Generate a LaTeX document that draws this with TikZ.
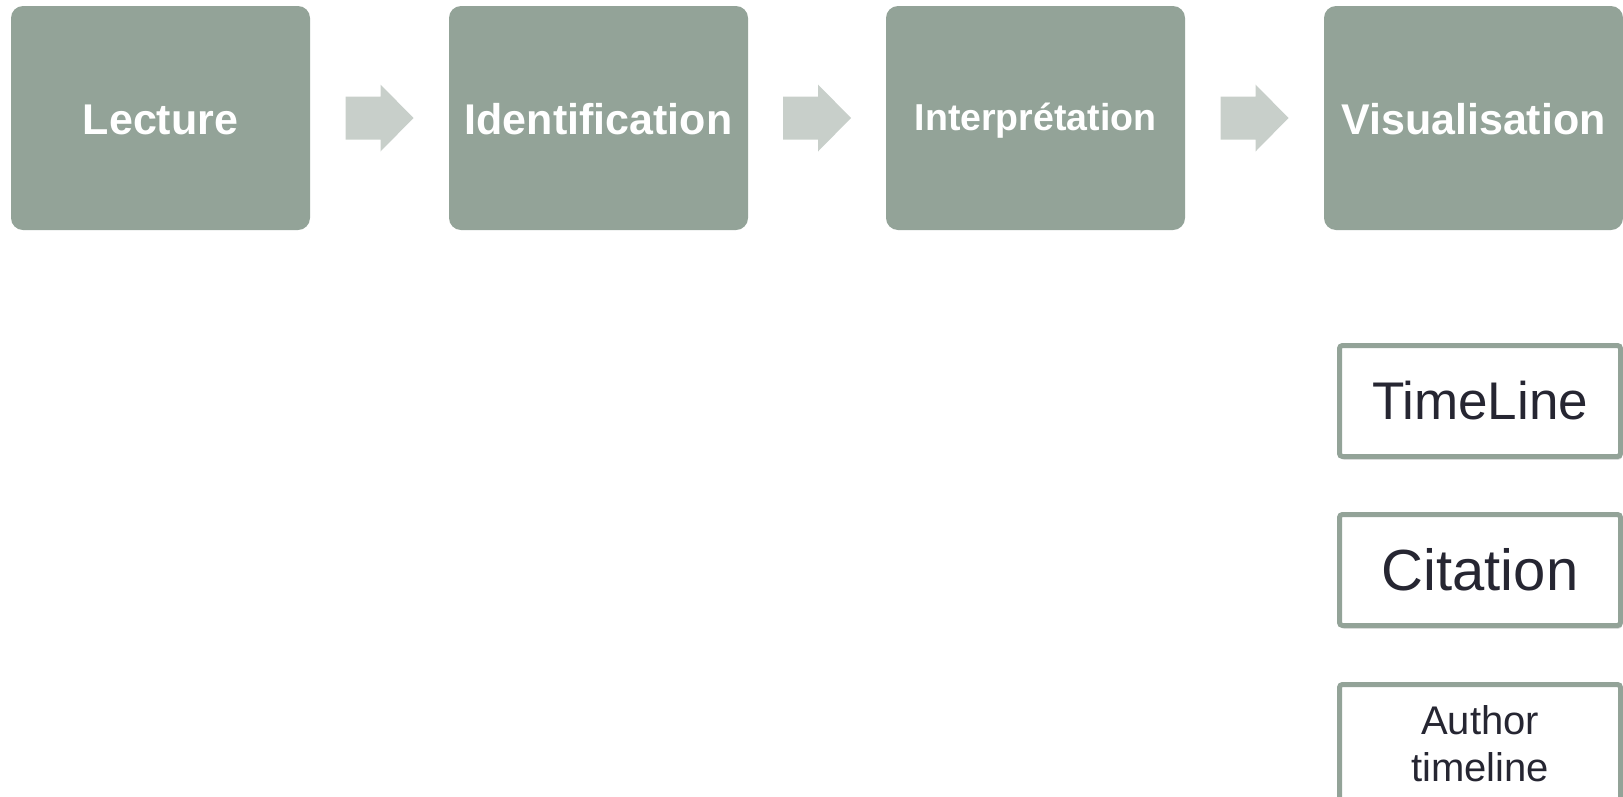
\documentclass[tikz,border=0pt]{standalone}
\usepackage{fontspec}
\setmainfont{Liberation Sans}
\usetikzlibrary{shadows,calc}
\definecolor{stepfill}{RGB}{147,163,152}
\definecolor{arrowc}{RGB}{200,207,202}
\definecolor{txtdark}{RGB}{38,38,50}
\tikzset{
  stepbox/.style={fill=stepfill, draw=none, rounded corners=12pt, minimum width=299pt, minimum height=224pt, inner sep=0pt, text=white, text height=32pt, text depth=0pt, font=\bfseries\fontsize{43}{50}\selectfont},
  visbox/.style={fill=white, draw=stepfill, line width=5pt, rounded corners=3pt, minimum width=281pt, minimum height=111pt, inner sep=0pt, text=txtdark, align=center,
    drop shadow={shadow xshift=1.5pt, shadow yshift=-3pt, opacity=0.4, fill=black!40}},
  chev/.pic={\fill[arrowc] (-34,-21.5) -- (1,-21.5) -- (1,-33.5) -- (34,0) -- (1,33.5) -- (1,21.5) -- (-34,21.5) -- cycle;}
}
\begin{document}
\begin{tikzpicture}[x=1pt,y=-1pt]
\useasboundingbox (0,0) rectangle (1623,796);
\clip (0,0) rectangle (1623,796);
\node[stepbox] (lec) at (160.5,118) {Lecture};
\node[stepbox] (ide) at (598.5,118) {Identification};
\node[stepbox, text height=24pt, font=\bfseries\fontsize{37.5}{44}\selectfont] (int) at (1035.5,118) {Interprétation};
\node[stepbox] (vis) at (1473.5,118) {Visualisation};
\path ($(lec.east)!0.5!(ide.west)$) pic {chev};
\path ($(ide.east)!0.5!(int.west)$) pic {chev};
\path ($(int.east)!0.5!(vis.west)$) pic {chev};
\node[visbox, font=\fontsize{53}{60}\selectfont] (tl) at (1480,401) {TimeLine};
\node[visbox, font=\fontsize{58}{66}\selectfont] (cit) at (1480,570) {Citation};
\node[visbox, minimum height=119pt, font=\fontsize{40}{47}\selectfont] (aut) at (1480,744) {Author\\timeline};
\end{tikzpicture}
\end{document}
